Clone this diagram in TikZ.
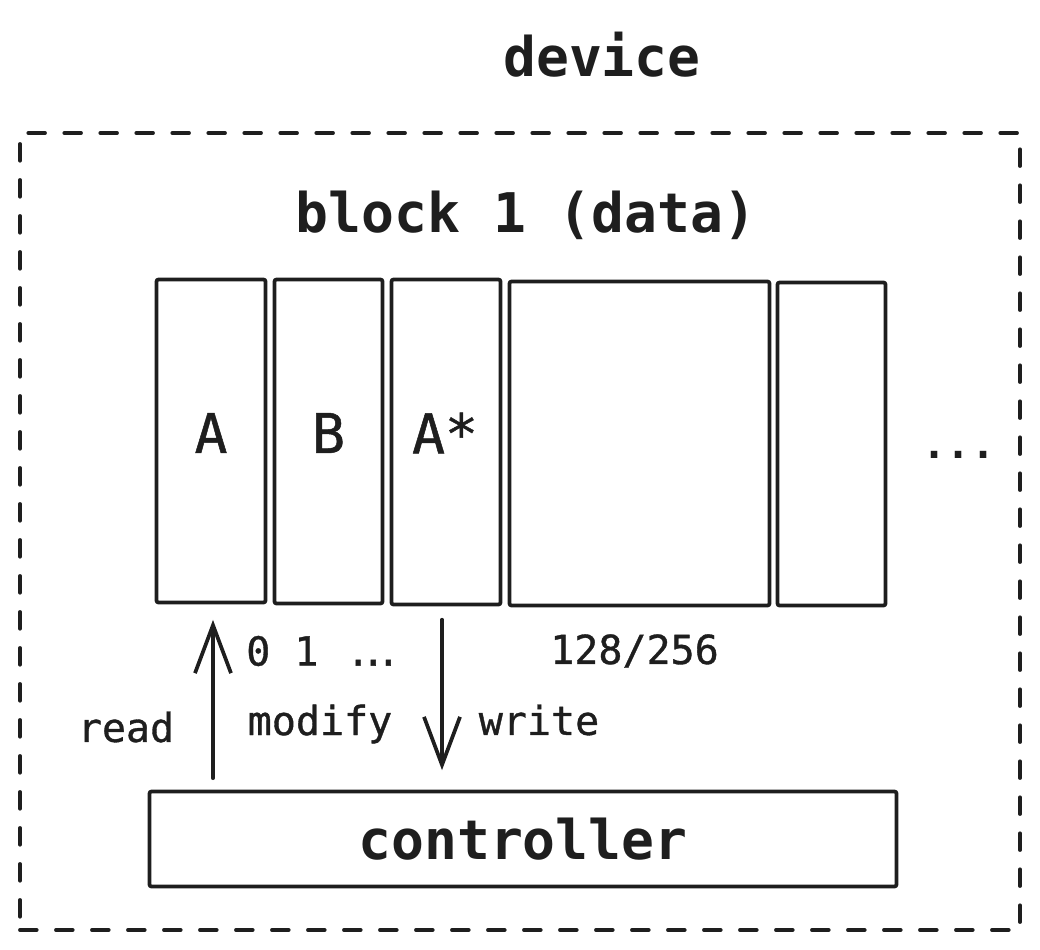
\documentclass[tikz,border=0pt]{standalone}
\usepackage{fontspec}
\setmonofont{DejaVu Sans Mono}
\newfontfamily\medmono[FakeBold=0.9]{DejaVu Sans Mono}
\newfontfamily\ellfont[FakeBold=0.9]{DejaVu Sans}
\usetikzlibrary{arrows.meta}
\definecolor{inkc}{HTML}{1E1E1E}
\begin{document}
\begin{tikzpicture}[x=0.75pt,y=-0.75pt,
  cell/.style={draw=inkc, line width=2.8pt, rounded corners=1.5pt, inner sep=0pt},
  celltext/.style={inner sep=0pt, text=inkc, font=\medmono\fontsize{41}{48}\selectfont},
  big/.style={inner sep=0pt, text=inkc, font=\ttfamily\bfseries\fontsize{41}{48}\selectfont},
  lbl/.style={inner sep=0pt, text=inkc, font=\medmono\fontsize{30}{36}\selectfont},
  frame/.style={draw=inkc, line width=2.9pt, line cap=round, dash pattern=on 12.5pt off 14.5pt, inner sep=0pt},
  arr/.style={draw=inkc, line width=2.8pt, line cap=round, -{Straight Barb[length=36pt,width=27pt,line width=2.8pt]}}
]
\useasboundingbox (0,0) rectangle (1040,950);

\node[frame, minimum width=1000*0.75pt, minimum height=797*0.75pt] (dev) at (520,531.5) {};
\node[big] (title) at (602,55) {device};
\node[big] (blk) at (526,215) {block 1 (data)};

\node[cell, minimum width=109*0.75pt, minimum height=323*0.75pt] (A) at (211,441) {};
\node[cell, minimum width=108*0.75pt, minimum height=324*0.75pt] (B) at (328.5,441.5) {};
\node[cell, minimum width=109*0.75pt, minimum height=325*0.75pt] (As) at (446,442) {};
\node[cell, minimum width=260*0.75pt, minimum height=324*0.75pt] (C) at (639.5,443.5) {};
\node[cell, minimum width=108*0.75pt, minimum height=323*0.75pt] (D) at (831.5,444) {};

\node[celltext] (tA) at (211,433) {A};
\node[celltext] (tB) at (328.5,433) {B};
\node[celltext] (tAs) at (445,433) {A*};
\node[lbl, font=\ttfamily\bfseries\fontsize{30}{36}\selectfont] (more) at (959,455) {...};

\node[lbl, anchor=west] (idx) at (246,651) {0 1 {\ellfont\hspace{6pt}\fontsize{34}{36}\selectfont …}};
\node[lbl] (size) at (634.5,651) {128/256};
\node[lbl] (rd) at (126,727) {read};
\node[lbl] (md) at (320,724) {modify};
\node[lbl] (wr) at (539,720) {write};

\node[cell, minimum width=747*0.75pt, minimum height=95*0.75pt, font=\ttfamily\bfseries\fontsize{41}{48}\selectfont, text=inkc] (ctrl) at (523,839) {controller};

\draw[arr] ([xshift=1.5pt,yshift=8.6pt]ctrl.north -| A.south) -- ([xshift=1.5pt,yshift=-11.6pt]A.south);
\draw[arr] ([xshift=-3pt,yshift=-10pt]As.south) -- ([xshift=-3pt,yshift=14.6pt]ctrl.north -| As.south);
\end{tikzpicture}
\end{document}
